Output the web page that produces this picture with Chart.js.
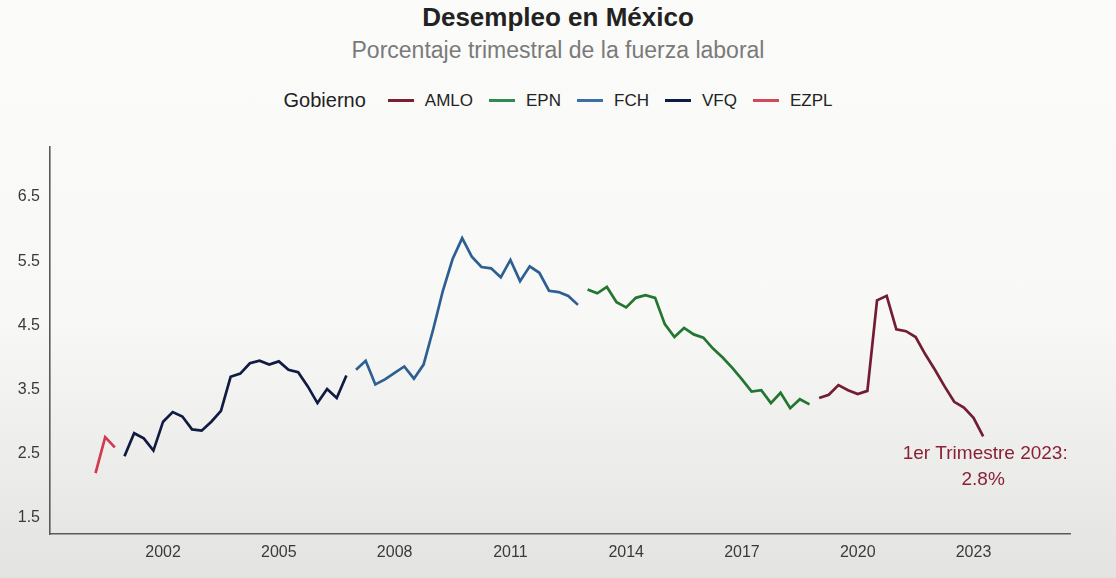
<!DOCTYPE html>
<html>
<head>
<meta charset="utf-8">
<title>Desempleo en México</title>
<script src="https://cdn.jsdelivr.net/npm/chart.js"></script>
<style>
  html, body { margin: 0; padding: 0; }
  body {
    width: 1116px; height: 578px; overflow: hidden; position: relative;
    font-family: 'Liberation Sans', Arial, sans-serif;
    background: linear-gradient(to bottom, #fbfbf9 0%, #f8f8f6 55%, #e3e4e2 100%);
  }
  #title { position: absolute; top: 2px; left: 0; width: 1116px; text-align: center;
           font-size: 26px; font-weight: bold; color: #222; }
  #subtitle { position: absolute; top: 37px; left: 0; width: 1116px; text-align: center;
              font-size: 23px; color: #7a7a7a; }
  #legend { position: absolute; top: 89px; left: 0; width: 1116px; display: flex;
            justify-content: center; align-items: center; color: #222; font-size: 17px; }
  #legend .head { font-size: 20px; margin-right: 6px; }
  #legend .item { display: flex; align-items: center; margin-left: 16px; }
  #legend .swatch { width: 26px; height: 3px; margin-right: 11px; }
  #wrap { position: absolute; left: 0; top: 0; width: 1116px; height: 578px; }
</style>
</head>
<body>
<div id="title">Desempleo en México</div>
<div id="subtitle">Porcentaje trimestral de la fuerza laboral</div>
<div id="legend"></div>
<div id="wrap"><canvas id="chart"></canvas></div>

<script>
// Tasa de desocupación trimestral (%), una serie por gobierno.
// Cada serie empieza en el trimestre indicado (año + trimestre/4).
const governments = ['AMLO', 'EPN', 'FCH', 'VFQ', 'EZPL'];
const colors = ['#731d33', '#22762f', '#2d5f93', '#111b42', '#d23b4e'];
const legendColors = ['#7b1f35', '#2e8b57', '#3a6ea5', '#0f1a45', '#d04a5c'];

const ezplStart = 2000.25;
const ezplValues = [2.20, 2.76, 2.60];

const vfqStart = 2001.0;
const vfqValues = [2.46, 2.82, 2.74, 2.55, 3.00, 3.15, 3.08, 2.88, 2.86, 3.00, 3.17, 3.70,
                   3.75, 3.91, 3.95, 3.89, 3.94, 3.81, 3.77, 3.55, 3.29, 3.51, 3.37, 3.72];

const fchStart = 2007.0;
const fchValues = [3.81, 3.95, 3.58, 3.66, 3.76, 3.86, 3.67, 3.89, 4.44, 5.04, 5.53, 5.86,
                   5.57, 5.41, 5.39, 5.25, 5.52, 5.19, 5.42, 5.32, 5.04, 5.02, 4.96, 4.82];

const epnStart = 2013.0;
const epnValues = [5.06, 5.00, 5.10, 4.86, 4.78, 4.93, 4.97, 4.93, 4.52, 4.32, 4.46, 4.36,
                   4.31, 4.14, 4.00, 3.84, 3.66, 3.47, 3.49, 3.29, 3.45, 3.21, 3.35, 3.27];

const amloStart = 2019.0;
const amloValues = [3.37, 3.42, 3.57, 3.49, 3.43, 3.48, 4.89, 4.96, 4.44, 4.41, 4.32, 4.05,
                    3.81, 3.55, 3.31, 3.22, 3.06, 2.77];

const xTicks = [2002, 2005, 2008, 2011, 2014, 2017, 2020, 2023];
const yTicks = [1.5, 2.5, 3.5, 4.5, 5.5, 6.5];
const noteLines = ['1er Trimestre 2023:', '2.8%'];

const seriesStarts = [amloStart, epnStart, fchStart, vfqStart, ezplStart];
const seriesValues = [amloValues, epnValues, fchValues, vfqValues, ezplValues];

function toPoints(start, values) {
  return values.map((v, i) => ({ x: start + i * 0.25, y: v }));
}

// leyenda en HTML: "Gobierno" seguido de los cinco gobiernos
const legendEl = document.getElementById('legend');
legendEl.innerHTML = '<span class="head">Gobierno</span>' + governments.map((g, i) =>
  `<span class="item"><span class="swatch" style="background:${legendColors[i]}"></span>${g}</span>`
).join('');

const lastNote = {
  id: 'lastNote',
  afterDatasetsDraw(chart) {
    const { ctx, scales: { x, y } } = chart;
    const px = x.getPixelForValue(amloStart + (amloValues.length - 1) * 0.25);
    const py = y.getPixelForValue(amloValues[amloValues.length - 1]);
    ctx.save();
    ctx.fillStyle = '#8a2034';
    ctx.font = '19px "Liberation Sans", Arial, sans-serif';
    ctx.textAlign = 'center';
    ctx.textBaseline = 'middle';
    ctx.fillText(noteLines[0], px + 2, py + 17);
    ctx.fillText(noteLines[1], px, py + 43);
    ctx.restore();
  }
};

const tickFont = { family: "'Liberation Sans', Arial, sans-serif", size: 16 };

new Chart(document.getElementById('chart'), {
  type: 'line',
  data: {
    datasets: governments.map((g, i) => ({
      label: g,
      data: toPoints(seriesStarts[i], seriesValues[i]),
      borderColor: colors[i],
      backgroundColor: colors[i],
      borderWidth: 2.7,
      pointRadius: 0,
      tension: 0,
      fill: false
    }))
  },
  options: {
    responsive: true,
    maintainAspectRatio: false,
    animation: false,
    layout: { padding: { top: 147, right: 46, bottom: 0, left: 0 } },
    plugins: {
      legend: { display: false },
      title: { display: false },
      tooltip: { enabled: false }
    },
    scales: {
      x: {
        type: 'linear',
        min: 1999.07,
        max: 2025.5,
        grid: { display: false, drawTicks: false },
        border: { display: true, color: '#5a5a5a', width: 1.6 },
        afterBuildTicks: s => { s.ticks = xTicks.map(v => ({ value: v })); },
        afterFit: s => { s.height = 44; },
        ticks: {
          autoSkip: false, maxRotation: 0, padding: 9,
          color: '#3a3a3a', font: tickFont,
          callback: v => String(v)
        }
      },
      y: {
        min: 1.25,
        max: 7.28,
        grid: { display: false, drawTicks: false },
        border: { display: true, color: '#5a5a5a', width: 1.6 },
        afterBuildTicks: s => { s.ticks = yTicks.map(v => ({ value: v })); },
        afterFit: s => { s.width = 50; },
        ticks: {
          padding: 10, color: '#3a3a3a', font: tickFont,
          callback: v => v.toFixed(1)
        }
      }
    }
  },
  plugins: [lastNote]
});
</script>
</body>
</html>
